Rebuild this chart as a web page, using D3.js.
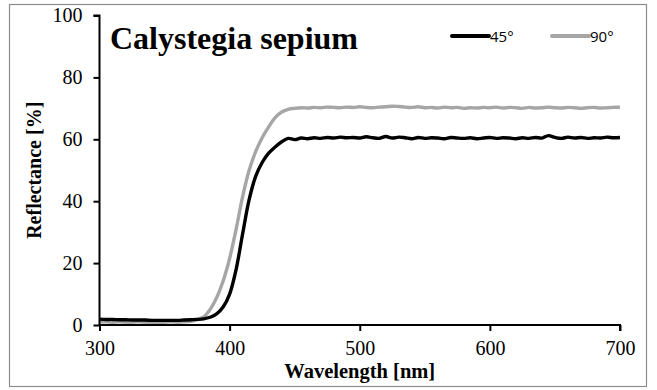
<!DOCTYPE html>
<html>
<head>
<meta charset="utf-8">
<script src="https://cdn.jsdelivr.net/npm/d3@7/dist/d3.min.js"></script>
<style>
  html, body { margin: 0; padding: 0; background: #fff; }
  svg { display: block; }
</style>
</head>
<body>
<svg id="chart" width="657" height="390"></svg>
<script>
// Reflectance spectra of Calystegia sepium at two viewing angles
const chartTitle = "Calystegia sepium";
const seriesNames = ["45°", "90°"];
const seriesColors = ["#000000", "#a6a6a6"];

const wavelengths = [
  300, 305, 310, 315, 320, 325, 330, 335, 340, 345,
  350, 355, 360, 365, 370, 375, 380, 385, 390, 395,
  400, 405, 410, 415, 420, 425, 430, 435, 440, 445,
  450, 455, 460, 465, 470, 475, 480, 485, 490, 495,
  500, 505, 510, 515, 520, 525, 530, 535, 540, 545,
  550, 555, 560, 565, 570, 575, 580, 585, 590, 595,
  600, 605, 610, 615, 620, 625, 630, 635, 640, 645,
  650, 655, 660, 665, 670, 675, 680, 685, 690, 695,
  700
];

const refl45 = [
  1.9, 1.8, 1.8, 1.7, 1.7, 1.6, 1.6, 1.6, 1.5, 1.5,
  1.5, 1.5, 1.5, 1.6, 1.7, 1.8, 2.0, 2.5, 3.6, 5.8,
  10.0, 18.0, 29.5, 40.5, 48.0, 52.5, 55.5, 57.5, 59.2, 60.3,
  59.9, 60.4, 60.2, 60.5, 60.3, 60.6, 60.4, 60.7, 60.5, 60.6,
  60.4, 60.8, 60.5, 60.3, 60.9, 60.4, 60.7, 60.5, 60.2, 60.6,
  60.3, 60.5, 60.4, 60.2, 60.6, 60.4, 60.3, 60.5, 60.2, 60.4,
  60.6, 60.3, 60.5, 60.4, 60.2, 60.5, 60.3, 60.6, 60.4, 61.2,
  60.6, 60.3, 60.7, 60.4, 60.6, 60.3, 60.5, 60.4, 60.7, 60.5,
  60.6
];

const refl90 = [
  1.0, 1.0, 0.9, 1.0, 0.9, 0.9, 1.0, 0.9, 0.9, 0.9,
  0.9, 1.0, 0.9, 1.0, 1.2, 1.7, 2.6, 5.0, 8.8, 14.2,
  21.5, 31.0, 41.5, 50.0, 56.0, 60.5, 64.0, 67.0, 68.8, 69.7,
  70.0, 70.2, 70.1, 70.3, 70.2, 70.4, 70.3, 70.2, 70.4, 70.3,
  70.5, 70.3, 70.2, 70.4, 70.5, 70.7, 70.6, 70.4, 70.3, 70.5,
  70.2, 70.3, 70.1, 70.4, 70.2, 70.3, 70.0, 70.2, 70.1, 70.3,
  70.2, 70.4, 70.1, 70.3, 70.2, 70.0, 70.3, 70.1, 70.2, 70.4,
  70.2, 70.1, 70.3, 70.2, 70.0, 70.2, 70.3, 70.1, 70.2, 70.3,
  70.4
];

const xTicks = [300, 400, 500, 600, 700];
const yTicks = [0, 20, 40, 60, 80, 100];
const xLabel = "Wavelength [nm]";
const yLabel = "Reflectance [%]";

const svg = d3.select("#chart");

// outer frame
svg.append("rect")
  .attr("x", 9.5).attr("y", 4.5)
  .attr("width", 637).attr("height", 382)
  .attr("fill", "#fff")
  .attr("stroke", "#8c8c8c")
  .attr("stroke-width", 1.2);

const plot = { left: 99.5, right: 620, top: 15.5, bottom: 325 };

const x = d3.scaleLinear().domain([300, 700]).range([plot.left, plot.right]);
const y = d3.scaleLinear().domain([0, 100]).range([plot.bottom, plot.top]);

const serif = "'Liberation Serif', 'Times New Roman', serif";

// series lines
const seriesData = [refl45, refl90];
const line = d3.line()
  .x((d, i) => x(wavelengths[i]))
  .y(d => y(d))
  .curve(d3.curveCatmullRom.alpha(0.5));

// draw 90° first so the 45° line sits on top near the baseline
[1, 0].forEach(k => {
  svg.append("path")
    .datum(seriesData[k])
    .attr("fill", "none")
    .attr("stroke", seriesColors[k])
    .attr("stroke-width", 3.4)
    .attr("stroke-linejoin", "round")
    .attr("d", line);
});

// axes
const yAxis = svg.append("g")
  .attr("transform", `translate(${plot.left},0)`)
  .attr("font-family", serif)
  .call(d3.axisLeft(y).tickValues(yTicks).tickSize(6).tickPadding(11));
const xAxis = svg.append("g")
  .attr("transform", `translate(0,${plot.bottom})`)
  .attr("font-family", serif)
  .call(d3.axisBottom(x).tickValues(xTicks).tickSize(6).tickPadding(10));

[xAxis, yAxis].forEach(g => {
  g.attr("font-family", serif).attr("font-size", 20);
  g.select(".domain").attr("stroke", "#000").attr("stroke-width", 2);
  g.selectAll(".tick line").attr("stroke", "#000").attr("stroke-width", 2);
  g.selectAll(".tick text")
    .attr("fill", "#000")
    .style("font-family", serif)
    .style("font-size", "20px");
});
yAxis.select(".domain").attr("d", `M-6,${plot.top}H0V${plot.bottom}`);
xAxis.select(".domain").attr("d", `M${plot.left},0H${plot.right}V6`);

// axis titles
svg.append("text")
  .attr("x", (plot.left + plot.right) / 2)
  .attr("y", 378)
  .attr("text-anchor", "middle")
  .style("font-family", serif)
  .style("font-weight", "bold")
  .style("font-size", "20.5px")
  .text(xLabel);

svg.append("text")
  .attr("transform", `translate(41,${(plot.top + plot.bottom) / 2}) rotate(-90)`)
  .attr("text-anchor", "middle")
  .style("font-family", serif)
  .style("font-weight", "bold")
  .style("font-size", "20px")
  .text(yLabel);

// chart title
svg.append("text")
  .attr("x", 110)
  .attr("y", 49)
  .style("font-family", serif)
  .style("font-weight", "bold")
  .style("font-size", "32px")
  .text(chartTitle);

// legend
const legendX = [452, 552];
seriesNames.forEach((name, k) => {
  const g = svg.append("g").attr("transform", `translate(${legendX[k]},36)`);
  g.append("line")
    .attr("x1", 0).attr("x2", 37)
    .attr("y1", 0).attr("y2", 0)
    .attr("stroke", seriesColors[k])
    .attr("stroke-width", 4)
    .attr("stroke-linecap", "round");
  g.append("text")
    .attr("x", 38)
    .attr("y", 5.5)
    .style("font-family", "'Open Sans', 'Liberation Sans', sans-serif")
    .style("font-size", "15px")
    .attr("fill", "#000")
    .text(name);
});
</script>
</body>
</html>
